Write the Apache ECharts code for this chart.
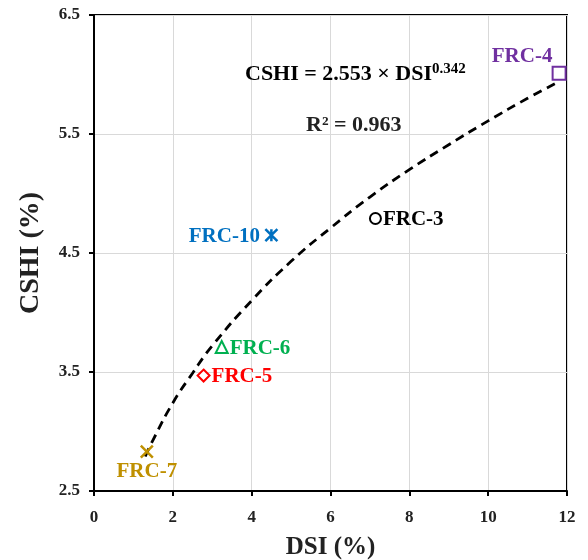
<!DOCTYPE html>
<html><head><meta charset="utf-8">
<script src="https://cdn.jsdelivr.net/npm/echarts@6/dist/echarts.min.js"></script>
<style>html,body{margin:0;padding:0;background:#fff}#c{width:588px;height:560px}</style>
</head><body><div id="c"></div>
<script>
// Data
var sampleNames = ['FRC-4', 'FRC-10', 'FRC-3', 'FRC-6', 'FRC-5', 'FRC-7'];
var dsiValues  = [11.8, 4.5, 7.14, 3.24, 2.78, 1.34];
var cshiValues = [6.01, 4.65, 4.79, 3.71, 3.47, 2.83];
// Fitted power curve as traced on the picture
var fitDsi  = [1.3, 1.5, 2, 2.5, 3, 4, 5, 6, 7, 8, 9, 10, 11, 11.8];
var fitCshi = [2.79, 2.93, 3.24, 3.49, 3.72, 4.10, 4.43, 4.71, 4.97, 5.20, 5.41, 5.61, 5.80, 5.94];
var xTicks = [0, 2, 4, 6, 8, 10, 12];
var yTicks = [2.5, 3.5, 4.5, 5.5, 6.5];

var FONT = '"Liberation Serif", "Times New Roman", serif';
var styles = {
  'FRC-4':  {color: '#7030A0', symbol: 'rect', size: 13, pos: 'top', offset: [-37, 4]},
  'FRC-10': {color: '#0070C0', symbol: 'path://M0,0L10,10M10,0L0,10M5,0L5,10', size: 12, pos: 'left', offset: [0, 1]},
  'FRC-3':  {color: '#000000', symbol: 'circle', size: 11, pos: 'right', offset: [-2, 1]},
  'FRC-6':  {color: '#00B050', symbol: 'triangle', size: 12, pos: 'right', offset: [-2, 2]},
  'FRC-5':  {color: '#FF0000', symbol: 'diamond', size: 12, pos: 'right', offset: [-2, 1]},
  'FRC-7':  {color: '#BF9000', symbol: 'path://M0,0L10,10M10,0L0,10', size: 12, pos: 'bottom', offset: [0, -2]}
};

var series = [{
  type: 'line',
  data: fitDsi.map(function (x, i) { return [x, fitCshi[i]]; }),
  showSymbol: false,
  smooth: true,
  silent: true,
  lineStyle: {color: '#000', width: 2.8, type: [9, 6]},
  z: 1
}];
sampleNames.forEach(function (n, i) {
  var s = styles[n];
  var isPath = s.symbol.indexOf('path://') === 0;
  series.push({
    type: 'scatter',
    name: n,
    data: [[dsiValues[i], cshiValues[i]]],
    symbol: s.symbol,
    symbolSize: s.size,
    itemStyle: {opacity: 1, color: isPath ? 'none' : '#fff', borderColor: s.color, borderWidth: isPath ? 2.5 : 2},
    label: {
      show: true, formatter: n, position: s.pos, distance: 3, offset: s.offset,
      color: s.color, fontFamily: FONT, fontWeight: 'bold', fontSize: 21
    },
    z: 3
  });
});

var chart = echarts.init(document.getElementById('c'), null, {renderer: 'canvas'});
chart.setOption({
  animation: false,
  backgroundColor: '#fff',
  grid: {left: 94, right: 21, top: 15, bottom: 69, containLabel: false, outerBoundsMode: 'none',
    show: true, borderColor: '#000', borderWidth: 2, backgroundColor: 'transparent'},
  xAxis: {
    type: 'value', min: xTicks[0], max: xTicks[xTicks.length - 1], interval: 2,
    name: 'DSI (%)', nameLocation: 'middle', nameGap: 44,
    nameTextStyle: {fontFamily: FONT, fontWeight: 'bold', fontSize: 25, color: '#222'},
    axisLine: {lineStyle: {color: '#000', width: 2}},
    axisTick: {show: true, length: 5, lineStyle: {color: '#000', width: 2}},
    axisLabel: {fontFamily: FONT, fontWeight: 'bold', fontSize: 17, color: '#222', margin: 18},
    splitLine: {show: true, lineStyle: {color: '#d9d9d9', width: 1}}
  },
  yAxis: {
    type: 'value', min: yTicks[0], max: yTicks[yTicks.length - 1], interval: 1,
    name: 'CSHI (%)', nameLocation: 'middle', nameGap: 49, nameRotate: 90,
    nameTextStyle: {fontFamily: FONT, fontWeight: 'bold', fontSize: 28, color: '#222'},
    axisLine: {lineStyle: {color: '#000', width: 2}},
    axisTick: {show: true, length: 5, lineStyle: {color: '#000', width: 2}},
    axisLabel: {fontFamily: FONT, fontWeight: 'bold', fontSize: 17, color: '#222', margin: 14,
      formatter: function (v) { return v.toFixed(1); }},
    splitLine: {show: true, lineStyle: {color: '#d9d9d9', width: 1}}
  },
  graphic: [
    {type: 'text', left: 245, top: 62, z: 10, style: {
      text: '{b|CSHI = 2.553 × DSI}{s|0.342}',
      rich: {
        b: {fontFamily: FONT, fontWeight: 'bold', fontSize: 22, color: '#222'},
        s: {fontFamily: FONT, fontWeight: 'bold', fontSize: 15, color: '#222', verticalAlign: 'top', padding: [0, 0, 9, 0]}
      }
    }},
    {type: 'text', left: 306, top: 114, z: 10, style: {
      text: 'R² = 0.963', fontFamily: FONT, fontWeight: 'bold', fontSize: 22, fill: '#222'
    }}
  ],
  series: series
});
</script></body></html>
